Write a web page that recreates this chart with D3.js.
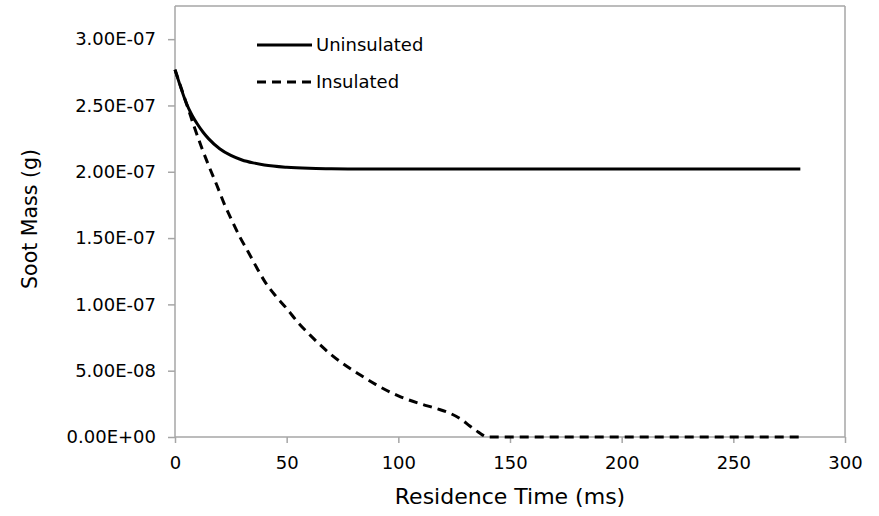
<!DOCTYPE html>
<html>
<head>
<meta charset="utf-8">
<script src="https://cdn.jsdelivr.net/npm/d3@7"></script>
<style>
  html, body { margin: 0; padding: 0; background: #fff; }
  svg { display: block; }
  text { font-family: "DejaVu Sans", Verdana, sans-serif; fill: #000; }
</style>
</head>
<body>
<svg id="chart" width="879" height="516"></svg>
<script>
// ---- data ----
const seriesNames = ["Uninsulated", "Insulated"];
const uninsulatedTime = [0, 2.5, 5, 7.5, 10, 12.5, 15, 20, 25, 30, 35, 40, 50, 60, 70, 80, 100, 150, 200, 250, 280];
const uninsulatedMass = [2.77e-7, 2.64e-7, 2.52e-7, 2.43e-7, 2.36e-7, 2.30e-7, 2.25e-7, 2.174e-7, 2.123e-7, 2.089e-7, 2.067e-7, 2.051e-7, 2.034e-7, 2.026e-7, 2.023e-7, 2.021e-7, 2.02e-7, 2.02e-7, 2.02e-7, 2.02e-7, 2.02e-7];
const insulatedTime = [0, 3, 6, 9, 12, 15, 18.7, 22, 25.4, 29, 32.8, 36.5, 40.3, 45, 50, 55, 60.5, 70, 83, 90, 101, 110, 117, 123, 128, 132, 136, 140, 150, 200, 250, 280];
const insulatedMass = [2.77e-7, 2.62e-7, 2.47e-7, 2.32e-7, 2.18e-7, 2.05e-7, 1.90e-7, 1.76e-7, 1.635e-7, 1.51e-7, 1.395e-7, 1.28e-7, 1.17e-7, 1.065e-7, 0.969e-7, 0.865e-7, 0.768e-7, 0.62e-7, 0.467e-7, 0.395e-7, 0.303e-7, 0.25e-7, 0.215e-7, 0.18e-7, 0.135e-7, 0.083e-7, 0.035e-7, 0, 0, 0, 0, 0];
const xTicks = [0, 50, 100, 150, 200, 250, 300];
const yTicks = [0, 0.5e-7, 1.0e-7, 1.5e-7, 2.0e-7, 2.5e-7, 3.0e-7];
const xTitle = "Residence Time (ms)";
const yTitle = "Soot Mass (g)";

// ---- layout ----
const W = 879, H = 516;
const margin = { left: 175, top: 6, right: 34, bottom: 79 };
const iw = W - margin.left - margin.right;
const ih = H - margin.top - margin.bottom;
const axisColor = "#a6a6a6";

const svg = d3.select("#chart");
const g = svg.append("g").attr("transform", `translate(${margin.left},${margin.top})`);

const x = d3.scaleLinear().domain([0, 300]).range([0, iw]);
const y = d3.scaleLinear().domain([0, 3.25e-7]).range([ih, 0]);

function sci(d) {
  if (d === 0) return "0.00E+00";
  const e = Math.floor(Math.log10(Math.abs(d)) + 1e-9);
  const m = d / Math.pow(10, e);
  const es = (e < 0 ? "-" : "+") + String(Math.abs(e)).padStart(2, "0");
  return m.toFixed(2) + "E" + es;
}

// plot border (top & right)
g.append("line").attr("x1", 0).attr("x2", iw).attr("y1", 0).attr("y2", 0)
  .attr("stroke", axisColor).attr("stroke-width", 1.5);
g.append("line").attr("x1", iw).attr("x2", iw).attr("y1", 0).attr("y2", ih)
  .attr("stroke", axisColor).attr("stroke-width", 1.5);

// axes
const xAxis = g.append("g").attr("transform", `translate(0,${ih})`)
  .call(d3.axisBottom(x).tickValues(xTicks).tickSize(6).tickPadding(13).tickFormat(d3.format("d")));
const yAxis = g.append("g")
  .call(d3.axisLeft(y).tickValues(yTicks).tickSize(7).tickPadding(12).tickFormat(sci));
[xAxis, yAxis].forEach(a => {
  a.select(".domain").attr("stroke", axisColor).attr("stroke-width", 1.5);
  a.selectAll(".tick line").attr("stroke", axisColor).attr("stroke-width", 1.5);
  a.selectAll(".tick text").style("font-family", "DejaVu Sans").style("font-size", "18px").attr("fill", "#000");
});
xAxis.selectAll(".domain").attr("d", `M0,0H${iw}`);
yAxis.selectAll(".domain").attr("d", `M0,0V${ih}`);

// lines
const line = d3.line().x(d => x(d[0])).y(d => y(d[1])).curve(d3.curveMonotoneX);
const uData = uninsulatedTime.map((t, i) => [t, uninsulatedMass[i]]);
const iData = insulatedTime.map((t, i) => [t, insulatedMass[i]]);

g.append("path").datum(uData).attr("d", line)
  .attr("fill", "none").attr("stroke", "#000").attr("stroke-width", 3);
g.append("path").datum(iData).attr("d", line)
  .attr("fill", "none").attr("stroke", "#000").attr("stroke-width", 3)
  .attr("stroke-dasharray", "9,6");

// legend
const legend = svg.append("g");
const legY = [45, 82];
seriesNames.forEach((name, i) => {
  const ln = legend.append("line").attr("x1", 257).attr("x2", 312)
    .attr("y1", legY[i]).attr("y2", legY[i])
    .attr("stroke", "#000").attr("stroke-width", 3);
  if (i === 1) ln.attr("stroke-dasharray", "9,6");
  legend.append("text").attr("x", 316).attr("y", legY[i]).attr("dy", "0.36em")
    .style("font-size", "18px").text(name);
});

// axis titles
svg.append("text").attr("x", margin.left + iw / 2).attr("y", 504)
  .attr("text-anchor", "middle").style("font-size", "22px").text(xTitle);
svg.append("text").attr("transform", `translate(37,219) rotate(-90)`)
  .attr("text-anchor", "middle").style("font-size", "20.5px").text(yTitle);
</script>
</body>
</html>
